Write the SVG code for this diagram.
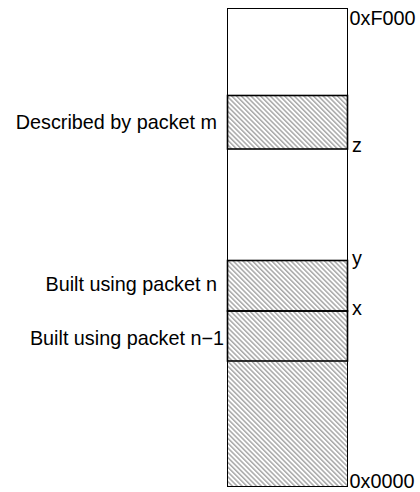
<svg xmlns="http://www.w3.org/2000/svg" width="420" height="492" viewBox="0 0 420 492">
<style>
text{font-family:"Liberation Sans",Arial,sans-serif;font-size:19.8px;fill:#000}
.outer{fill:none;stroke:#000;stroke-width:1}
.hatch{fill:url(#h);stroke:#000;stroke-width:1.6}
.lbl{text-anchor:end}
</style>
<defs>
<pattern id="h" width="3.4" height="10" patternUnits="userSpaceOnUse" patternTransform="rotate(-45)">
<line x1="0.8" y1="0" x2="0.8" y2="10" stroke="#222" stroke-width="0.65"/>
</pattern>
</defs>
<rect class="outer" x="227.5" y="8.5" width="120" height="478"/>
<g id="region-m"><rect class="hatch" x="227.5" y="95.5" width="120" height="53.5"/></g>
<g id="region-n"><rect class="hatch" x="227.5" y="260.5" width="120" height="50.5"/></g>
<g id="region-n1"><rect class="hatch" x="227.5" y="311" width="120" height="50"/></g>
<g id="region-base"><rect x="228" y="361.5" width="119" height="125" fill="url(#h)" stroke="none"/>
<line x1="227.5" y1="486.5" x2="347.5" y2="486.5" stroke="#000" stroke-width="1"/></g>
<g id="labels">
<text class="lbl" x="217" y="129">Described by packet m</text>
<text class="lbl" x="217" y="291">Built using packet n</text>
<text class="lbl" x="224" y="345">Built using packet n−1</text>
<text x="349.5" y="24.5">0xF000</text>
<text x="352" y="152">z</text>
<text x="352" y="265">y</text>
<text x="352" y="315">x</text>
<text x="349.5" y="488">0x0000</text>
</g>
</svg>
